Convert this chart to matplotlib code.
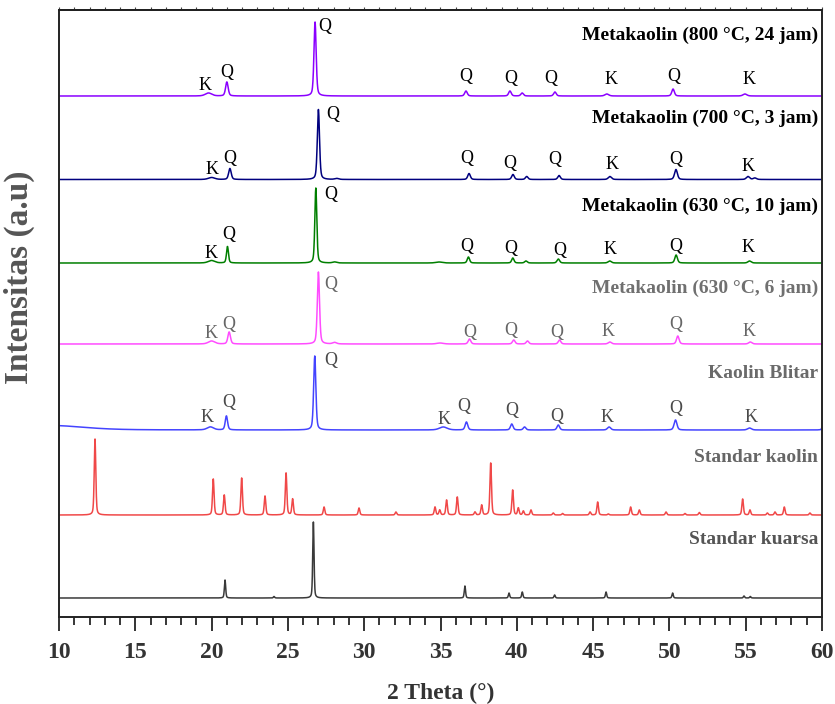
import numpy as np
import matplotlib
matplotlib.use("Agg")
import matplotlib.pyplot as plt
from matplotlib.ticker import MultipleLocator

# ---------------- data ----------------
series_names = ["Metakaolin (800 °C, 24 jam)", "Metakaolin (700 °C, 3 jam)",
                "Metakaolin (630 °C, 10 jam)", "Metakaolin (630 °C, 6 jam)",
                "Kaolin Blitar", "Standar kaolin", "Standar kuarsa"]

# peak positions (2theta), heights (a.u.) and widths (deg) per pattern
mk800_pos = [19.8, 21.0, 26.78, 36.67, 39.55, 40.35, 42.5, 45.9, 50.24, 54.95]
mk800_h   = [3, 14, 74, 5, 5, 3, 4, 2, 7, 2]
mk800_w   = [0.5, 0.2, 0.17, 0.2, 0.2, 0.2, 0.2, 0.3, 0.2, 0.3]

mk700_pos = [20.0, 21.2, 27.0, 28.2, 36.87, 39.75, 40.65, 42.77, 46.1, 50.43, 55.15, 55.6]
mk700_h   = [2, 11, 70, 1, 6, 5, 3, 4, 3, 10, 3, 1.5]
mk700_w   = [0.5, 0.2, 0.17, 0.3, 0.2, 0.2, 0.2, 0.2, 0.25, 0.22, 0.25, 0.25]

mk630a_pos = [19.99, 21.04, 26.83, 28.06, 34.9, 36.83, 39.74, 40.6, 42.72, 46.09, 50.44, 55.25]
mk630a_h   = [2.5, 16.5, 75, 1, 1, 6, 5, 2, 4, 2, 8, 2]
mk630a_w   = [0.5, 0.15, 0.15, 0.3, 0.5, 0.18, 0.18, 0.2, 0.2, 0.25, 0.2, 0.25]

mk630b_pos = [20.0, 21.15, 27.0, 28.06, 34.97, 36.9, 39.8, 40.7, 42.8, 46.1, 50.55, 55.3]
mk630b_h   = [3, 12, 72, 1.5, 1, 5, 4, 3, 4, 2, 8, 2]
mk630b_w   = [0.5, 0.2, 0.17, 0.3, 0.5, 0.2, 0.2, 0.2, 0.2, 0.25, 0.2, 0.25]

blitar_pos = [9.5, 19.92, 20.97, 26.76, 35.18, 36.7, 39.67, 40.51, 42.72, 46.05, 50.4, 55.25, 60.1]
blitar_h   = [4.5, 3, 14, 74, 3, 8, 6, 3, 5, 3, 10, 2, 8]
blitar_w   = [5, 0.5, 0.18, 0.17, 0.6, 0.2, 0.2, 0.2, 0.2, 0.25, 0.22, 0.3, 0.15]

kaolin_pos = [12.36, 20.11, 20.83, 21.97, 23.5, 24.88, 25.31, 27.37, 29.66, 32.08,
              34.64, 34.95, 35.4, 36.1, 37.26, 37.7, 38.29, 39.73, 40.1, 40.43,
              40.93, 42.39, 43.0, 44.8, 45.3, 46.0, 47.46, 48.03, 49.78, 51.02,
              51.96, 54.8, 55.28, 56.42, 56.92, 57.53, 59.21]
kaolin_h   = [76, 36, 20, 37, 19, 42, 16, 8, 7, 3,
              8, 5, 15, 18, 3, 10, 52, 25, 7, 4,
              5, 2, 1.5, 3, 13, 1, 8, 5, 3, 1.5,
              2.5, 16, 5, 2, 3, 8, 2]
kaolin_w   = [0.12] * len(kaolin_pos)

kuarsa_pos = [20.88, 24.09, 26.67, 36.6, 39.49, 40.36, 42.48, 45.85, 50.21, 54.89, 55.3]
kuarsa_h   = [18, 1.5, 76, 12, 5, 6, 3, 6, 5, 2, 1.5]
kuarsa_w   = [0.1] * len(kuarsa_pos)

# phase labels (Q = quartz, K = kaolinite) for the sample patterns
mk800_lab_x = [19.57, 20.99, 27.43, 36.67, 39.6, 42.22, 46.15, 50.3, 55.22]
mk800_lab_y = [11, 24, 69, 20, 18, 18, 16, 19, 16]
mk800_lab   = ["K", "Q", "Q", "Q", "Q", "Q", "K", "Q", "K"]

mk700_lab_x = [20.05, 21.21, 27.96, 36.75, 39.51, 42.5, 46.26, 50.41, 55.13]
mk700_lab_y = [10, 21, 65, 21, 16, 20, 15, 20, 13]
mk700_lab   = ["K", "Q", "Q", "Q", "Q", "Q", "K", "Q", "K"]

mk630a_lab_x = [19.99, 21.14, 27.78, 36.75, 39.63, 42.79, 46.13, 50.43, 55.18]
mk630a_lab_y = [9, 29, 68, 17, 15, 13, 14, 17, 15]
mk630a_lab   = ["K", "Q", "Q", "Q", "Q", "Q", "K", "Q", "K"]

mk630b_lab_x = [19.99, 21.14, 27.78, 36.9, 39.62, 42.61, 45.95, 50.41, 55.25]
mk630b_lab_y = [10, 20, 60, 12, 13, 11, 13, 20, 13]
mk630b_lab   = ["K", "Q", "Q", "Q", "Q", "Q", "K", "Q", "K"]

blitar_lab_x = [19.67, 21.14, 27.78, 35.25, 36.51, 39.67, 42.61, 45.88, 50.41, 55.35]
blitar_lab_y = [13, 27, 70, 11, 23, 19, 13, 13, 21, 13]
blitar_lab   = ["K", "Q", "Q", "K", "Q", "Q", "Q", "K", "Q", "K"]

x_ticks = [10, 15, 20, 25, 30, 35, 40, 45, 50, 55, 60]

# ---------------- layout / style ----------------
offsets = [521, 437.5, 354, 273, 187, 102, 19]
colors = ["#8a00ff", "#00007f", "#007f00", "#ff4cff", "#4444ff", "#f04848", "#3a3a3a"]
title_y = [582, 499, 411, 329, 244, 160, 77]
title_col = ["black", "black", "black", "#707070", "#6a6a6a", "#666666", "#555555"]
lab_col = ["black", "black", "black", "#666666", "#4a4a4a"]

peaks = [(mk800_pos, mk800_h, mk800_w), (mk700_pos, mk700_h, mk700_w),
         (mk630a_pos, mk630a_h, mk630a_w), (mk630b_pos, mk630b_h, mk630b_w),
         (blitar_pos, blitar_h, blitar_w), (kaolin_pos, kaolin_h, kaolin_w),
         (kuarsa_pos, kuarsa_h, kuarsa_w)]
labels = [(mk800_lab_x, mk800_lab_y, mk800_lab), (mk700_lab_x, mk700_lab_y, mk700_lab),
          (mk630a_lab_x, mk630a_lab_y, mk630a_lab), (mk630b_lab_x, mk630b_lab_y, mk630b_lab),
          (blitar_lab_x, blitar_lab_y, blitar_lab)]

serif = "Liberation Serif"
plt.rcParams["font.family"] = [serif, "DejaVu Serif"]

fig = plt.figure(figsize=(8.35, 7.04), dpi=100)
ax = fig.add_axes([59 / 835, 1 - 617 / 704, 763 / 835, 607 / 704])

tt = np.linspace(10, 60, 5001)


def profile(pos, h, w):
    y = np.zeros_like(tt)
    for p, a, fw in zip(pos, h, w):
        hw = fw / 2.0
        lor = 1.0 / (1.0 + ((tt - p) / hw) ** 2)
        gau = np.exp(-np.log(2) * ((tt - p) / hw) ** 2)
        y += a * (0.4 * lor + 0.6 * gau)
    return y


for i, (pos, h, w) in enumerate(peaks):
    ax.plot(tt, offsets[i] + profile(pos, h, w), color=colors[i], lw=1.1)
    ax.text(59.74, title_y[i], series_names[i], ha="right", va="center",
            fontsize=14, fontweight="bold", color=title_col[i], family=serif)

for i, (lx, ly, lt) in enumerate(labels):
    for x, y, t in zip(lx, ly, lt):
        ax.text(x, offsets[i] + y, t, ha="center", va="center", fontsize=13,
                color=lab_col[i], family=serif)

ax.set_xlim(10, 60)
ax.set_ylim(0, 607)
ax.set_xticks(x_ticks)
ax.xaxis.set_minor_locator(MultipleLocator(1))
ax.set_yticks([])
ax.tick_params(axis="x", which="major", direction="out", length=10, width=1.4,
               labelsize=17, colors="#333333", pad=8)
ax.tick_params(axis="x", which="minor", direction="out", length=5.5, width=1.1)
for lbl in ax.get_xticklabels():
    lbl.set_fontweight("bold")
    lbl.set_family(serif)
for s in ax.spines.values():
    s.set_linewidth(1.4)
    s.set_color("#222222")

# small ticks along the top frame
sec = ax.secondary_xaxis("top")
sec.set_xticks(x_ticks)
sec.xaxis.set_minor_locator(MultipleLocator(1))
sec.tick_params(axis="x", which="both", direction="out", length=2.5, width=0.8,
                labeltop=False, colors="#444444")
sec.spines["top"].set_linewidth(1.4)

ax.set_xlabel("2 Theta (°)", fontsize=17, fontweight="bold", color="#333333",
              family=serif, labelpad=14)
ax.set_ylabel("Intensitas (a.u)", fontsize=24, fontweight="bold", color="#555555",
              family=serif)
ax.yaxis.set_label_coords(-0.031, 0.56)

fig.savefig("out.png", dpi=100)
